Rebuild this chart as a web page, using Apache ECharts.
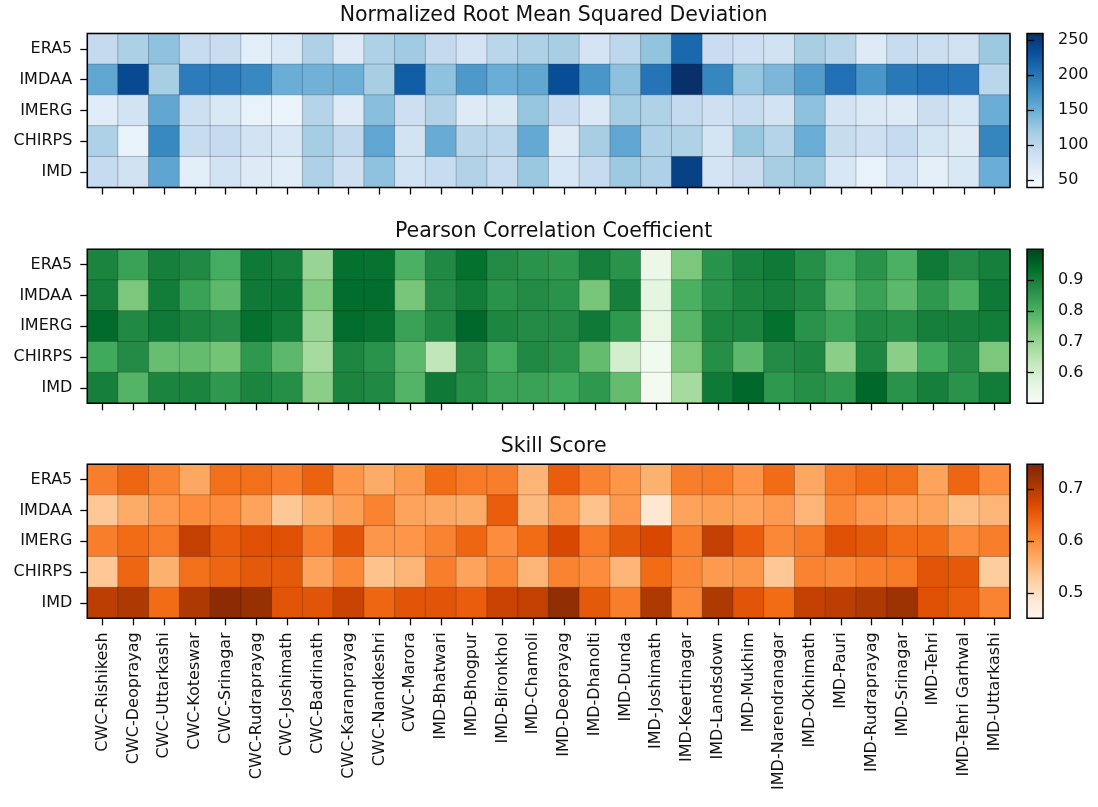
<!DOCTYPE html>
<html>
<head>
<meta charset="utf-8">
<script src="https://cdn.jsdelivr.net/npm/echarts@6/dist/echarts.min.js"></script>
<style>
  html, body { margin: 0; padding: 0; background: #fff; }
  #ec { width: 1098px; height: 807px; }
</style>
</head>
<body>
<div id="ec"></div>
<script>
// 站点
var stations = ['CWC-Rishikesh', 'CWC-Deoprayag', 'CWC-Uttarkashi', 'CWC-Koteswar', 'CWC-Srinagar',
  'CWC-Rudraprayag', 'CWC-Joshimath', 'CWC-Badrinath', 'CWC-Karanprayag', 'CWC-Nandkeshri',
  'CWC-Marora', 'IMD-Bhatwari', 'IMD-Bhogpur', 'IMD-Bironkhol', 'IMD-Chamoli', 'IMD-Deoprayag',
  'IMD-Dhanolti', 'IMD-Dunda', 'IMD-Joshimath', 'IMD-Keertinagar', 'IMD-Landsdown', 'IMD-Mukhim',
  'IMD-Narendranagar', 'IMD-Okhimath', 'IMD-Pauri', 'IMD-Rudraprayag', 'IMD-Srinagar', 'IMD-Tehri',
  'IMD-Tehri Garhwal', 'IMD-Uttarkashi'];
// 数据集
var products = ['ERA5', 'IMDAA', 'IMERG', 'CHIRPS', 'IMD'];

// Normalized Root Mean Squared Deviation
var nrmsdERA5 = [95, 112, 130, 93, 90, 62, 70, 110, 66, 110, 120, 95, 78, 103, 110, 115, 78, 100, 128, 212, 90, 85, 82, 115, 104, 67, 92, 87, 83, 123];
var nrmsdIMDAA = [157, 238, 115, 195, 195, 185, 150, 146, 148, 115, 222, 130, 170, 150, 156, 235, 172, 131, 202, 260, 187, 126, 140, 166, 205, 172, 198, 204, 202, 103];
var nrmsdIMERG = [64, 80, 156, 86, 72, 55, 52, 106, 67, 134, 86, 108, 66, 72, 126, 94, 70, 117, 109, 96, 85, 92, 80, 131, 78, 70, 67, 87, 74, 150];
var nrmsdCHIRPS = [110, 55, 185, 92, 94, 80, 74, 117, 98, 157, 80, 151, 104, 101, 154, 67, 115, 157, 110, 109, 79, 125, 106, 150, 92, 85, 94, 79, 66, 188];
var nrmsdIMD = [94, 83, 158, 62, 80, 66, 63, 110, 85, 130, 80, 92, 108, 92, 124, 74, 94, 122, 110, 245, 78, 90, 115, 124, 74, 55, 78, 60, 72, 150];

// Pearson Correlation Coefficient
var pccERA5 = [0.89, 0.83, 0.90, 0.88, 0.81, 0.91, 0.90, 0.70, 0.93, 0.925, 0.80, 0.88, 0.93, 0.875, 0.86, 0.85, 0.90, 0.86, 0.54, 0.74, 0.86, 0.895, 0.91, 0.87, 0.81, 0.86, 0.80, 0.91, 0.875, 0.90];
var pccIMDAA = [0.90, 0.74, 0.905, 0.83, 0.78, 0.91, 0.915, 0.73, 0.935, 0.935, 0.745, 0.875, 0.905, 0.86, 0.875, 0.86, 0.745, 0.90, 0.56, 0.80, 0.86, 0.89, 0.90, 0.88, 0.78, 0.83, 0.78, 0.85, 0.80, 0.91];
var pccIMERG = [0.94, 0.88, 0.91, 0.89, 0.875, 0.93, 0.905, 0.70, 0.935, 0.925, 0.83, 0.88, 0.945, 0.885, 0.875, 0.875, 0.91, 0.85, 0.55, 0.785, 0.885, 0.89, 0.93, 0.86, 0.83, 0.88, 0.87, 0.90, 0.90, 0.905];
var pccCHIRPS = [0.815, 0.875, 0.765, 0.77, 0.75, 0.85, 0.78, 0.68, 0.885, 0.86, 0.78, 0.635, 0.875, 0.81, 0.88, 0.86, 0.77, 0.60, 0.52, 0.74, 0.87, 0.78, 0.875, 0.885, 0.72, 0.885, 0.72, 0.8125, 0.875, 0.74];
var pccIMD = [0.90, 0.79, 0.89, 0.89, 0.85, 0.89, 0.87, 0.72, 0.89, 0.88, 0.79, 0.91, 0.87, 0.83, 0.83, 0.815, 0.85, 0.77, 0.515, 0.68, 0.91, 0.945, 0.85, 0.87, 0.85, 0.945, 0.86, 0.90, 0.86, 0.905];

// Skill Score
var skillERA5 = [0.615, 0.64, 0.61, 0.57, 0.63, 0.63, 0.615, 0.645, 0.59, 0.565, 0.585, 0.635, 0.62, 0.615, 0.555, 0.65, 0.61, 0.59, 0.56, 0.615, 0.62, 0.59, 0.635, 0.57, 0.62, 0.635, 0.63, 0.575, 0.64, 0.60];
var skillIMDAA = [0.535, 0.565, 0.585, 0.60, 0.60, 0.575, 0.535, 0.56, 0.58, 0.61, 0.575, 0.57, 0.565, 0.65, 0.55, 0.585, 0.54, 0.585, 0.485, 0.575, 0.58, 0.575, 0.585, 0.555, 0.605, 0.585, 0.575, 0.575, 0.545, 0.555];
var skillIMERG = [0.615, 0.635, 0.62, 0.69, 0.65, 0.665, 0.665, 0.615, 0.66, 0.59, 0.59, 0.61, 0.64, 0.60, 0.635, 0.675, 0.62, 0.655, 0.675, 0.615, 0.69, 0.65, 0.605, 0.62, 0.665, 0.655, 0.635, 0.635, 0.60, 0.615];
var skillCHIRPS = [0.535, 0.64, 0.56, 0.63, 0.64, 0.655, 0.655, 0.575, 0.605, 0.54, 0.555, 0.615, 0.575, 0.605, 0.555, 0.61, 0.60, 0.555, 0.635, 0.605, 0.585, 0.59, 0.535, 0.61, 0.605, 0.615, 0.62, 0.66, 0.655, 0.53];
var skillIMD = [0.695, 0.705, 0.635, 0.705, 0.735, 0.725, 0.66, 0.66, 0.685, 0.64, 0.66, 0.66, 0.65, 0.685, 0.69, 0.73, 0.655, 0.615, 0.705, 0.605, 0.705, 0.66, 0.635, 0.69, 0.695, 0.705, 0.72, 0.665, 0.65, 0.61];

// 色条刻度
var nrmsdTicks = [50, 100, 150, 200, 250];
var pccTicks = [0.6, 0.7, 0.8, 0.9];
var skillTicks = [0.5, 0.6, 0.7];

// 色带
var BLUES = ['#f7fbff', '#deebf7', '#c6dbef', '#9ecae1', '#6baed6', '#4292c6', '#2171b5', '#08519c', '#08306b'];
var GREENS = ['#f7fcf5', '#e5f5e0', '#c7e9c0', '#a1d99b', '#74c476', '#41ab5d', '#238b45', '#006d2c', '#00441b'];
var ORANGES = ['#fff5eb', '#fee6ce', '#fdd0a2', '#fdae6b', '#fd8d3c', '#f16913', '#d94801', '#a63603', '#7f2704'];

var FONT = 'DejaVu Sans';
var TXT = '#111';

var panels = [
  { title: 'Normalized Root Mean Squared Deviation', rows: [nrmsdERA5, nrmsdIMDAA, nrmsdIMERG, nrmsdCHIRPS, nrmsdIMD],
    min: 38.9, max: 259.7, ticks: nrmsdTicks, colors: BLUES, top: 33.5, fmt: function(v) { return String(v); } },
  { title: 'Pearson Correlation Coefficient', rows: [pccERA5, pccIMDAA, pccIMERG, pccCHIRPS, pccIMD],
    min: 0.5, max: 1.0, ticks: pccTicks, colors: GREENS, top: 249.3, fmt: function(v) { return v.toFixed(1); } },
  { title: 'Skill Score', rows: [skillERA5, skillIMDAA, skillIMERG, skillCHIRPS, skillIMD],
    min: 0.452, max: 0.748, ticks: skillTicks, colors: ORANGES, top: 464.3, fmt: function(v) { return v.toFixed(1); } }
];

var conf = { left: 87.3, right: 1010, h: 154, cbLeft: 1027, cbW: 16, tick: 7 };

var ec = echarts.init(document.getElementById('ec'), null, { renderer: 'canvas' });

var titles = [], grids = [], xAxes = [], yAxes = [], series = [], vms = [];

// 外框
function frameItem(params) {
  var c = params.coordSys;
  return { type: 'rect', shape: { x: c.x, y: c.y, width: c.width, height: c.height },
    style: { fill: null, stroke: '#000', lineWidth: 1.5 }, z2: 100 };
}

panels.forEach(function(p, i) {
  var last = i === panels.length - 1;
  titles.push({
    text: p.title, left: (conf.left + conf.right) / 2, top: p.top - 33, textAlign: 'center',
    textStyle: { fontFamily: FONT, fontSize: 20.5, fontWeight: 'normal', color: TXT }
  });

  // 热力图
  grids.push({ left: conf.left, top: p.top, width: conf.right - conf.left, height: conf.h, containLabel: false });
  xAxes.push({
    type: 'category', gridIndex: grids.length - 1, data: stations, z: 10,
    axisLine: { show: false },
    axisTick: { show: true, alignWithLabel: true, length: conf.tick, lineStyle: { color: '#000', width: 1.3 } },
    axisLabel: { show: last, rotate: 90, interval: 0, margin: 14, fontFamily: FONT, fontSize: 16, color: TXT },
    splitLine: { show: false }
  });
  yAxes.push({
    type: 'category', gridIndex: grids.length - 1, data: products, inverse: true, z: 10,
    axisLine: { show: false },
    axisTick: { show: true, alignWithLabel: true, length: conf.tick, lineStyle: { color: '#000', width: 1.3 } },
    axisLabel: { margin: 15, fontFamily: FONT, fontSize: 16, color: TXT },
    splitLine: { show: false }
  });
  var data = [];
  p.rows.forEach(function(row, r) {
    row.forEach(function(v, c) { data.push([c, r, v]); });
  });
  var hmIndex = series.length;
  series.push({
    type: 'heatmap', xAxisIndex: xAxes.length - 1, yAxisIndex: yAxes.length - 1, data: data,
    itemStyle: { borderColor: 'rgba(0,0,0,0.3)', borderWidth: 0.7 },
    emphasis: { disabled: true }, progressive: 0, silent: true
  });
  series.push({
    type: 'custom', xAxisIndex: xAxes.length - 1, yAxisIndex: yAxes.length - 1, data: [[0, 0]],
    renderItem: frameItem, z: 10, silent: true
  });
  vms.push({ type: 'continuous', show: false, seriesIndex: hmIndex, min: p.min, max: p.max, inRange: { color: p.colors } });

  // 色条
  grids.push({ left: conf.cbLeft, top: p.top, width: conf.cbW, height: conf.h });
  xAxes.push({ type: 'value', gridIndex: grids.length - 1, min: 0, max: 1, show: false });
  yAxes.push({
    type: 'value', gridIndex: grids.length - 1, position: 'right', min: p.min, max: p.max, z: 10,
    axisLine: { show: false }, splitLine: { show: false },
    axisTick: { show: true, length: conf.tick, customValues: p.ticks, lineStyle: { color: '#000', width: 1.3 } },
    axisLabel: { customValues: p.ticks, margin: 15, fontFamily: FONT, fontSize: 16, color: TXT, formatter: p.fmt }
  });
  (function(colors) {
    var stops = colors.map(function(c, k) { return { offset: k / (colors.length - 1), color: c }; });
    series.push({
      type: 'custom', xAxisIndex: xAxes.length - 1, yAxisIndex: yAxes.length - 1, data: [[0, 0]], silent: true,
      renderItem: function(params) {
        var c = params.coordSys;
        return { type: 'group', children: [
          { type: 'rect', shape: { x: c.x, y: c.y, width: c.width, height: c.height },
            style: { fill: new echarts.graphic.LinearGradient(0, 1, 0, 0, stops) } },
          { type: 'rect', shape: { x: c.x, y: c.y, width: c.width, height: c.height },
            style: { fill: null, stroke: '#000', lineWidth: 1.5 } }
        ] };
      }
    });
  })(p.colors);
});

var option = {
  backgroundColor: '#fff',
  animation: false,
  title: titles,
  grid: grids,
  xAxis: xAxes,
  yAxis: yAxes,
  visualMap: vms,
  series: series
};
ec.setOption(option);
</script>
</body>
</html>
